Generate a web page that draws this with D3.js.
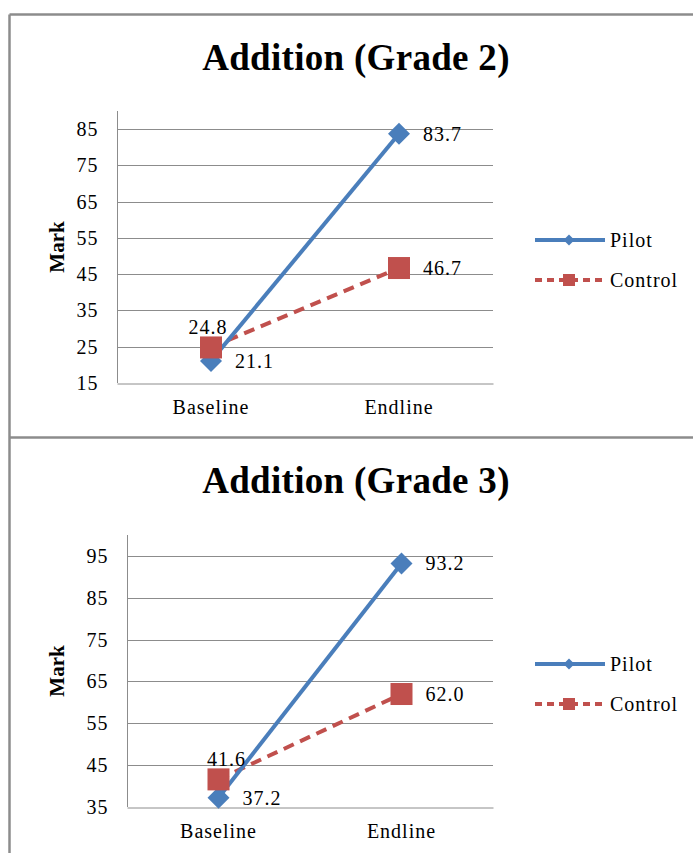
<!DOCTYPE html>
<html>
<head>
<meta charset="utf-8">
<script src="https://cdn.jsdelivr.net/npm/d3@7"></script>
<style>
  html, body { margin: 0; padding: 0; background: #fff; }
  svg { display: block; }
  text { font-family: "Liberation Serif", "Times New Roman", serif; fill: #000; }
</style>
</head>
<body>
<div id="chart"></div>
<script>
// data
var categories   = ['Baseline', 'Endline'];
var seriesNames  = ['Pilot', 'Control'];

var grade2Pilot   = [21.1, 83.7];
var grade2Control = [24.8, 46.7];
var grade2Ticks   = [15, 25, 35, 45, 55, 65, 75, 85];
var grade2Domain  = [15, 90];

var grade3Pilot   = [37.2, 93.2];
var grade3Control = [41.6, 62.0];
var grade3Ticks   = [35, 45, 55, 65, 75, 85, 95];
var grade3Domain  = [35, 100];

var W = 693, H = 853;
var BLUE = '#4a7ebb', RED = '#c0504d', GRID = '#8c8c8c';
var LS = '1px'; // the original text is a touch wider than Liberation Serif

var svg = d3.select('#chart').append('svg').attr('width', W).attr('height', H);

// frame lines
var frame = svg.append('g').attr('stroke', '#8c8c8c').attr('stroke-width', 2.5).attr('fill', 'none');
frame.append('line').attr('x1', 9.5).attr('x2', W).attr('y1', 14.5).attr('y2', 14.5);
frame.append('line').attr('x1', 9.5).attr('x2', 9.5).attr('y1', 14.5).attr('y2', H);
frame.append('line').attr('x1', 9.5).attr('x2', W).attr('y1', 437.5).attr('y2', 437.5);

function diamond(r) { return 'M0,' + (-r) + 'L' + r + ',0L0,' + r + 'L' + (-r) + ',0Z'; }

function drawChart(opt) {
    var g = svg.append('g').attr('transform', 'translate(0,' + opt.top + ')');
    var x = d3.scaleBand().domain(categories).range([opt.left, opt.right]);
    var y = d3.scaleLinear().domain(opt.domain).range([opt.bottom, opt.plotTop]);

    g.append('text').attr('x', 356).attr('y', 56)
        .attr('text-anchor', 'middle').attr('font-size', '37px').attr('font-weight', 'bold')
        .attr('letter-spacing', '0.3px').text(opt.title);

    // gridlines
    g.append('g').selectAll('line').data(opt.ticks.slice(1)).join('line')
        .attr('x1', opt.left).attr('x2', opt.right)
        .attr('y1', function(d){ return Math.round(y(d)) + 0.5; }).attr('y2', function(d){ return Math.round(y(d)) + 0.5; })
        .attr('stroke', GRID).attr('stroke-width', 1);

    // y axis
    var yAxis = d3.axisLeft(y).tickValues(opt.ticks).tickSize(0).tickPadding(19);
    var ya = g.append('g').attr('transform', 'translate(' + (Math.round(opt.left) + 0.5) + ',0)').call(yAxis);
    ya.select('.domain').attr('stroke', GRID).attr('d', 'M0,' + opt.plotTop + 'V' + opt.bottom);
    ya.selectAll('text').attr('font-size', '20px').attr('font-family', '"Liberation Serif", serif')
        .attr('letter-spacing', LS).attr('fill', '#000');

    // x axis
    var xAxis = d3.axisBottom(x).tickSize(0).tickPadding(16);
    var xa = g.append('g').attr('transform', 'translate(0,' + (Math.round(opt.bottom) + 0.5) + ')').call(xAxis);
    xa.select('.domain').attr('stroke', GRID);
    xa.selectAll('text').attr('font-size', '20px').attr('font-family', '"Liberation Serif", serif')
        .attr('letter-spacing', LS).attr('fill', '#000');

    g.append('text').attr('transform', 'translate(64,' + ((opt.plotTop + opt.bottom) / 2) + ') rotate(-90)')
        .attr('text-anchor', 'middle').attr('font-size', '21px').attr('font-weight', 'bold').text('Mark');

    var cx = function(i){ return x(categories[i]) + x.bandwidth() / 2; };
    var line = d3.line().x(function(d, i){ return cx(i); }).y(function(d){ return y(d); });

    // control (dashed)
    g.append('path').datum(opt.control).attr('d', line).attr('fill', 'none')
        .attr('stroke', RED).attr('stroke-width', 4).attr('stroke-dasharray', '11,7');
    // pilot (solid)
    g.append('path').datum(opt.pilot).attr('d', line).attr('fill', 'none')
        .attr('stroke', BLUE).attr('stroke-width', 4);

    g.selectAll('path.pm').data(opt.pilot).join('path').attr('class', 'pm')
        .attr('transform', function(d, i){ return 'translate(' + cx(i) + ',' + y(d) + ')'; })
        .attr('d', diamond(11)).attr('fill', BLUE);
    g.selectAll('rect.cm').data(opt.control).join('rect').attr('class', 'cm')
        .attr('x', function(d, i){ return cx(i) - 11; }).attr('y', function(d){ return y(d) - 11; })
        .attr('width', 22).attr('height', 22).attr('fill', RED);

    // data labels
    var fmt = d3.format('.1f');
    g.selectAll('text.pl').data(opt.pilot).join('text').attr('class', 'pl')
        .attr('x', function(d, i){ return cx(i) + 24; }).attr('y', function(d){ return y(d) + 7; })
        .attr('font-size', '20px').attr('letter-spacing', LS).text(fmt);
    g.selectAll('text.cl').data(opt.control).join('text').attr('class', 'cl')
        .attr('x', function(d, i){ return i === 0 ? cx(i) + opt.baseDx : cx(i) + 24; })
        .attr('y', function(d, i){ return i === 0 ? y(d) - 13 : y(d) + 7; })
        .attr('text-anchor', function(d, i){ return i === 0 ? 'middle' : 'start'; })
        .attr('font-size', '20px').attr('letter-spacing', LS).text(fmt);

    // legend
    var lg = g.append('g').attr('transform', 'translate(535,' + opt.legendY + ')');
    seriesNames.forEach(function(name, i) {
        var row = lg.append('g').attr('transform', 'translate(0,' + (i * 40) + ')');
        row.append('line').attr('x1', 0).attr('x2', 70).attr('y1', 0).attr('y2', 0)
            .attr('stroke', i === 0 ? BLUE : RED).attr('stroke-width', 4)
            .attr('stroke-dasharray', i === 0 ? null : '7,5');
        if (i === 0) row.append('path').attr('transform', 'translate(34,0)').attr('d', diamond(5.5)).attr('fill', BLUE);
        else row.append('rect').attr('x', 28).attr('y', -6).attr('width', 12).attr('height', 12).attr('fill', RED);
        row.append('text').attr('x', 75).attr('y', 7).attr('font-size', '20px').attr('letter-spacing', LS).text(name);
    });
}

drawChart({ top: 14, title: 'Addition (Grade 2)', left: 117, right: 493, plotTop: 97, bottom: 369,
    domain: grade2Domain, ticks: grade2Ticks, pilot: grade2Pilot, control: grade2Control,
    baseDx: -3, legendY: 226 });
drawChart({ top: 437, title: 'Addition (Grade 3)', left: 127, right: 493, plotTop: 98, bottom: 370,
    domain: grade3Domain, ticks: grade3Ticks, pilot: grade3Pilot, control: grade3Control,
    baseDx: 8, legendY: 227 });
</script>
</body>
</html>
